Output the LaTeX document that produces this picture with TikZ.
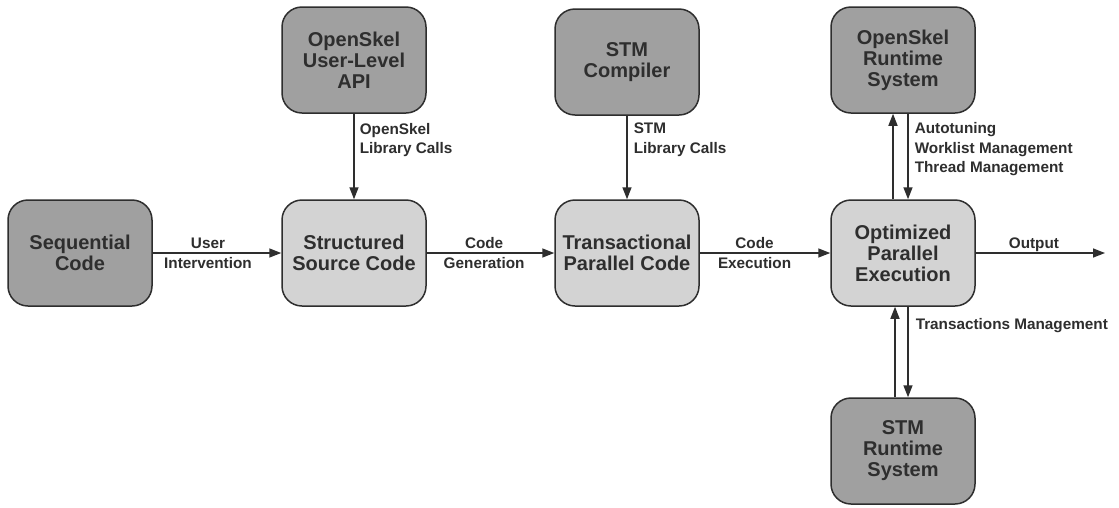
\documentclass[tikz,border=0pt]{standalone}
\usepackage{fontspec}
\setmainfont{Liberation Sans}
\usetikzlibrary{arrows.meta}
\definecolor{boxdark}{HTML}{A0A0A0}
\definecolor{boxlight}{HTML}{D3D3D3}
\definecolor{ink}{HTML}{2E2E2E}
\begin{document}
\begin{tikzpicture}[x=1pt,y=-1pt,
  box/.style={draw=ink, line width=1.5pt, rounded corners=20pt, minimum width=144pt, minimum height=106pt, align=center, font=\fontsize{20}{21}\selectfont\bfseries, text=ink},
  darkbox/.style={box, fill=boxdark},
  lightbox/.style={box, fill=boxlight},
  conn/.style={draw=ink, line width=1.5pt, -{Triangle[length=12pt,width=9pt]}},
  lbl/.style={font=\fontsize{15.3}{19.8}\selectfont\bfseries, text=ink, align=center, inner sep=0pt},
  sidelbl/.style={lbl, align=left}]
\useasboundingbox[fill=white] (0,0) rectangle (1119,507);

\node[darkbox]  (seq)    at (80,253)  {Sequential\\Code};
\node[lightbox] (struct) at (354,253) {Structured\\Source Code};
\node[lightbox] (trans)  at (627,253) {Transactional\\Parallel Code};
\node[lightbox] (opt)    at (903,253) {Optimized\\Parallel\\Execution};
\node[darkbox]  (api)    at (354,60)  {OpenSkel\\User-Level\\API};
\node[darkbox]  (stmc)   at (627,62)  {STM\\Compiler};
\node[darkbox]  (osr)    at (903,60)  {OpenSkel\\Runtime\\System};
\node[darkbox]  (stmr)   at (903,451) {STM\\Runtime\\System};
\coordinate (outend) at (1105,253);

\draw[conn] (seq) -- node[lbl, pos=0.43] {User\\Intervention} (struct);
\draw[conn] (struct) -- node[lbl, pos=0.45] {Code\\Generation} (trans);
\draw[conn] (trans) -- node[lbl, pos=0.42] {Code\\Execution} (opt);
\draw[conn] (opt) -- node[lbl, above=1pt, pos=0.45] {Output} (outend);

\draw[conn] (api) -- node[sidelbl, pos=0.1, anchor=north west, xshift=5pt] {OpenSkel\\Library Calls} (struct);
\draw[conn] (stmc) -- node[sidelbl, pos=0.08, anchor=north west, xshift=6pt] {STM\\Library Calls} (trans);

\draw[conn] ([xshift=-10pt]opt.north) -- ([xshift=-10pt]osr.south);
\draw[conn] ([xshift=5pt]osr.south) -- node[sidelbl, pos=0.09, anchor=north west, xshift=6pt] {Autotuning\\Worklist Management\\Thread Management} ([xshift=5pt]opt.north);
\draw[conn] ([xshift=-8pt]stmr.north) -- ([xshift=-8pt]opt.south);
\draw[conn] ([xshift=5pt]opt.south) -- node[sidelbl, pos=0.21, anchor=west, xshift=7pt] {Transactions Management} ([xshift=5pt]stmr.north);
\end{tikzpicture}
\end{document}
